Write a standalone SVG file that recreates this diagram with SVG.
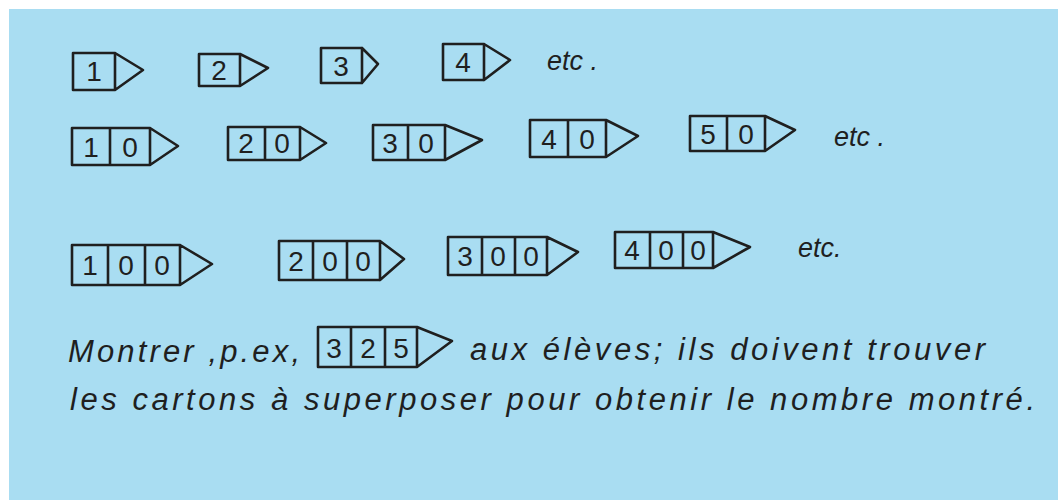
<svg xmlns="http://www.w3.org/2000/svg" width="1058" height="500" viewBox="0 0 1058 500">
<style>
.card{fill:none;stroke:#1f1f1f;stroke-width:2.6;stroke-linejoin:round;stroke-linecap:round}
.dg{font-family:"Liberation Sans","DejaVu Sans",sans-serif;font-size:28px;fill:#1f1f1f;text-anchor:middle}
.hw{font-family:"Liberation Sans","DejaVu Sans",sans-serif;font-style:italic;font-size:31px;fill:#1f1f1f}
.etc{font-family:"Liberation Sans","DejaVu Sans",sans-serif;font-style:italic;font-size:27px;fill:#1f1f1f}
</style>
<rect x="0" y="0" width="1058" height="500" fill="#ffffff"/>
<rect x="9" y="9" width="1049" height="491" fill="#a9ddf2"/>

<g id="row1">
<g id="card-1"><path class="card" d="M73 53 H115 V90 H73 Z M115 53 L143 70 L115 90"/><text class="dg" x="94" y="81">1</text></g>
<g id="card-2"><path class="card" d="M199 54 H240 V86 H199 Z M240 54 L268 68 L240 86"/><text class="dg" x="219" y="80">2</text></g>
<g id="card-3"><path class="card" d="M321 48 H362 V83 H321 Z M362 48 L378 64 L362 83"/><text class="dg" x="341" y="76">3</text></g>
<g id="card-4"><path class="card" d="M443 44 H484 V80 H443 Z M484 44 L510 60 L484 80"/><text class="dg" x="463" y="72">4</text></g>
<text id="etc-1" class="etc" x="547" y="70">etc .</text>
</g>

<g id="row2">
<g id="card-10"><path class="card" d="M72 128 H150 V165 H72 Z M110 128 V165 M150 128 L178 146 L150 165"/><text class="dg" x="91" y="157">1</text><text class="dg" x="130" y="157">0</text></g>
<g id="card-20"><path class="card" d="M228 127 H300 V160 H228 Z M265 127 V160 M300 127 L326 143 L300 160"/><text class="dg" x="246" y="153">2</text><text class="dg" x="282" y="153">0</text></g>
<g id="card-30"><path class="card" d="M373 125 H445 V160 H373 Z M408 125 V160 M445 125 L482 140 L445 160"/><text class="dg" x="390" y="153">3</text><text class="dg" x="426" y="153">0</text></g>
<g id="card-40"><path class="card" d="M530 120 H606 V157 H530 Z M568 120 V157 M606 120 L638 136 L606 157"/><text class="dg" x="549" y="149">4</text><text class="dg" x="587" y="149">0</text></g>
<g id="card-50"><path class="card" d="M690 116 H765 V151 H690 Z M727 116 V151 M765 116 L795 130 L765 151"/><text class="dg" x="708" y="144">5</text><text class="dg" x="746" y="144">0</text></g>
<text id="etc-2" class="etc" x="834" y="146">etc .</text>
</g>

<g id="row3">
<g id="card-100"><path class="card" d="M72 245 H180 V285 H72 Z M108 245 V285 M145 245 V285 M180 245 L212 264 L180 285"/><text class="dg" x="90" y="275">1</text><text class="dg" x="126" y="275">0</text><text class="dg" x="162" y="275">0</text></g>
<g id="card-200"><path class="card" d="M279 241 H380 V280 H279 Z M313 241 V280 M347 241 V280 M380 241 L404 259 L380 280"/><text class="dg" x="296" y="271">2</text><text class="dg" x="330" y="271">0</text><text class="dg" x="363" y="271">0</text></g>
<g id="card-300"><path class="card" d="M448 237 H547 V275 H448 Z M482 237 V275 M515 237 V275 M547 237 L578 252 L547 275"/><text class="dg" x="465" y="266">3</text><text class="dg" x="498" y="266">0</text><text class="dg" x="531" y="266">0</text></g>
<g id="card-400"><path class="card" d="M615 232 H713 V268 H615 Z M650 232 V268 M683 232 V268 M713 232 L750 247 L713 268"/><text class="dg" x="632" y="260">4</text><text class="dg" x="666" y="260">0</text><text class="dg" x="698" y="260">0</text></g>
<text id="etc-3" class="etc" x="798" y="257">etc.</text>
</g>

<g id="instructions">
<text class="hw" x="68" y="362" textLength="232" lengthAdjust="spacing">Montrer ,p.ex,</text>
<g id="card-325"><path class="card" d="M318 327 H417 V367 H318 Z M351 327 V367 M385 327 V367 M417 327 L452 341 L417 367"/><text class="dg" x="334" y="358">3</text><text class="dg" x="368" y="358">2</text><text class="dg" x="401" y="358">5</text></g>
<text class="hw" x="470" y="360" textLength="515" lengthAdjust="spacing">aux élèves; ils doivent trouver</text>
<text class="hw" x="70" y="410" textLength="965" lengthAdjust="spacing">les cartons à superposer pour obtenir le nombre montré.</text>
</g>
</svg>
